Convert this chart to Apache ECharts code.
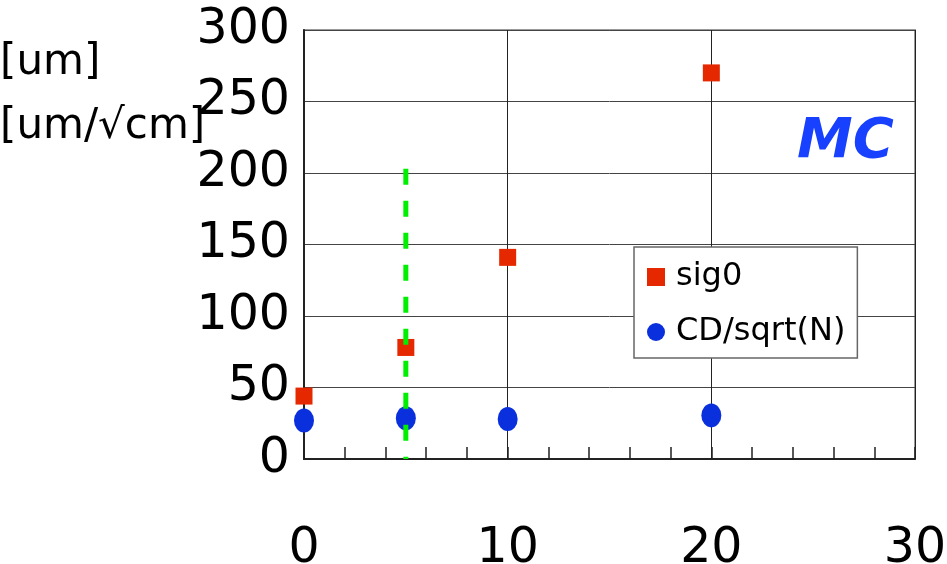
<!DOCTYPE html>
<html><head><meta charset="utf-8">
<script src="https://cdn.jsdelivr.net/npm/echarts@6/dist/echarts.min.js"></script>
<style>html,body{margin:0;padding:0;background:#fff}#c{width:947px;height:564px}</style>
</head><body><div id="c"></div>
<script>
const xValues = [0, 5, 10, 20];
const sig0 = [44, 78, 141, 270];
const cdSqrtN = [27, 28.5, 28, 30.5];
const cutX = [5, 5];
const cutY = [203, 0];
const xTicks = [0, 10, 20, 30];
const yTicks = [0, 50, 100, 150, 200, 250, 300];

const FONT = 'DejaVu Sans';
const chart = echarts.init(document.getElementById('c'), null, {renderer: 'canvas'});
chart.setOption({
  animation: false,
  backgroundColor: '#fff',
  grid: {left: 304, right: 32, top: 30, bottom: 105, outerBoundsMode: 'none', containLabel: false,
         show: true, borderColor: '#999', borderWidth: 2, backgroundColor: 'transparent'},
  xAxis: {
    type: 'value', min: xTicks[0], max: xTicks[xTicks.length-1], interval: 10,
    axisLine: {show: true, onZero: false, lineStyle: {color: '#222', width: 2}},
    axisTick: {show: true, inside: true, length: 12, lineStyle: {color: '#222', width: 1.5}},
    minorTick: {show: true, splitNumber: 5, length: 12, lineStyle: {color: '#222', width: 1.5}},
    splitLine: {show: true, lineStyle: {color: '#222', width: 1}},
    axisLabel: {margin: 66, fontSize: 49, color: '#000', fontFamily: FONT}
  },
  yAxis: {
    type: 'value', min: yTicks[0], max: yTicks[yTicks.length-1], interval: 50,
    axisLine: {show: true, lineStyle: {color: '#222', width: 2}},
    axisTick: {show: false},
    splitLine: {show: true, lineStyle: {color: '#444', width: 1}},
    axisLabel: {margin: 14, fontSize: 49, color: '#000', fontFamily: FONT}
  },
  legend: {
    show: true, orient: 'vertical', left: 634, top: 247,
    padding: [14, 12, 10, 13], itemGap: 23,
    backgroundColor: '#fff', borderColor: '#666', borderWidth: 1.5,
    itemWidth: 18, itemHeight: 18,
    textStyle: {fontSize: 32, color: '#000', fontFamily: FONT, padding: [0, 0, 0, 6]},
    data: [{name: 'sig0', icon: 'rect'}, {name: 'CD/sqrt(N)', icon: 'circle'}]
  },
  graphic: [
    {type: 'text', left: 0, top: 42, style: {text: '[um]', fontSize: 42, fontFamily: FONT, fill: '#000'}},
    {type: 'text', left: 0, top: 106, style: {text: '[um/√cm]', fontSize: 42, fontFamily: FONT, fill: '#000'}},
    {type: 'text', left: 797, top: 114, z: 10, style: {text: 'MC', fontSize: 56, fontStyle: 'italic', fontWeight: 'bold', fontFamily: FONT, fill: '#1840ff'}}
  ],
  series: [
    {
      name: 'sig0', type: 'scatter', data: xValues.map((x, i) => [x, sig0[i]]),
      symbol: 'rect', symbolSize: 17, itemStyle: {color: '#e62800', opacity: 1}, z: 3
    },
    {
      name: 'CD/sqrt(N)', type: 'scatter', data: xValues.map((x, i) => [x, cdSqrtN[i]]),
      symbol: 'circle', symbolSize: [20, 24], itemStyle: {color: '#0a2fdc', opacity: 1}, z: 3
    },
    {
      name: 'cut', type: 'line', data: cutX.map((x, i) => [x, cutY[i]]),
      symbol: 'none', lineStyle: {color: '#00ee00', width: 5, type: [16, 16]}, z: 5, silent: true
    }
  ]
});
</script></body></html>
